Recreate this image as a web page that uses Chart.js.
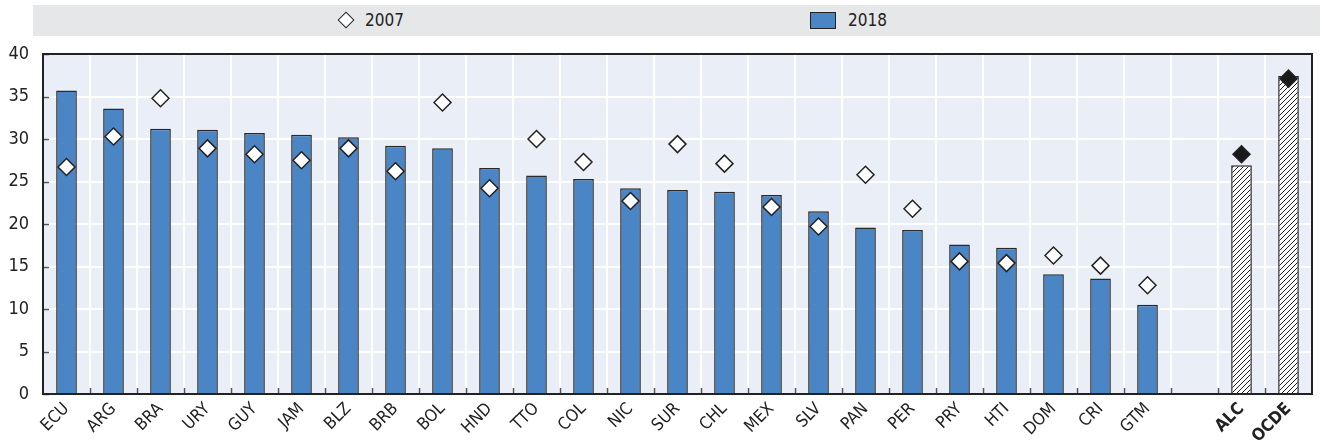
<!DOCTYPE html>
<html>
<head>
<meta charset="utf-8">
<script src="https://cdn.jsdelivr.net/npm/chart.js@4/dist/chart.umd.min.js"></script>
<style>
  body { margin: 0; background: #fff; }
  #wrap { position: relative; width: 1322px; height: 442px; }
  #legend {
    position: absolute; left: 33px; top: 5px; width: 1287px; height: 31px;
    background: #e6e7e9;
    font-family: 'Liberation Sans Narrow', 'DejaVu Sans Condensed', 'Roboto Condensed', sans-serif;
    font-size: 17px; color: #222;
  }
  .item { position: absolute; top: 0; height: 31px; line-height: 31px; }
  .diamond {
    position: absolute; width: 10px; height: 10px; top: 9px;
    background: #fff; border: 1.5px solid #222; transform: rotate(45deg);
  }
  .box {
    position: absolute; width: 24px; height: 15px; top: 7px;
    background: #4a86c6; border: 1px solid #222;
  }
</style>
</head>
<body>
<div id="wrap">
  <canvas id="chart" width="1322" height="442"></canvas>
  <div id="legend">
    <div class="item" style="left:307px"><span class="diamond"></span></div>
    <div class="item" style="left:332px">2007</div>
    <div class="item" style="left:777px"><span class="box"></span></div>
    <div class="item" style="left:815px">2018</div>
  </div>
</div>
<script>
// data
const categories = ["ECU", "ARG", "BRA", "URY", "GUY", "JAM", "BLZ", "BRB", "BOL", "HND",
    "TTO", "COL", "NIC", "SUR", "CHL", "MEX", "SLV", "PAN", "PER", "PRY",
    "HTI", "DOM", "CRI", "GTM", "", "ALC", "OCDE"];
const values2018 = [35.7, 33.6, 31.2, 31.1, 30.7, 30.5, 30.2, 29.2, 28.9, 26.6,
    25.7, 25.3, 24.2, 24.0, 23.8, 23.4, 21.5, 19.6, 19.3, 17.6,
    17.2, 14.1, 13.6, 10.5, null, 26.9, 37.4];
const values2007 = [26.7, 30.3, 34.8, 28.9, 28.2, 27.5, 28.9, 26.2, 34.3, 24.2,
    30.0, 27.3, 22.7, 29.4, 27.1, 22.0, 19.7, 25.8, 21.8, 15.6,
    15.4, 16.3, 15.1, 12.8, null, 28.2, 37.1];
const aggregates = ["ALC", "OCDE"];
const yTicks = [0, 5, 10, 15, 20, 25, 30, 35, 40];

const fontFamily = "'Liberation Sans Narrow', 'DejaVu Sans Condensed', 'Roboto Condensed', sans-serif";
const blue = "#4a86c6";

// diagonal hatch for the aggregates
function makeHatch() {
    const c = document.createElement("canvas");
    c.width = 5;
    c.height = 5;
    const g = c.getContext("2d");
    g.fillStyle = "#fff";
    g.fillRect(0, 0, 5, 5);
    g.strokeStyle = "#222";
    g.lineWidth = 1;
    g.beginPath();
    g.moveTo(-1, 6); g.lineTo(6, -1);
    g.moveTo(-1, 1); g.lineTo(1, -1);
    g.moveTo(4, 6); g.lineTo(6, 4);
    g.stroke();
    return g.createPattern(c, "repeat");
}
const hatch = makeHatch();

const isAgg = (i) => aggregates.includes(categories[i]);
const barColors = categories.map((c, i) => isAgg(i) ? hatch : blue);
const pointColors = categories.map((c, i) => isAgg(i) ? "#1a1a1a" : "#ffffff");

// plot background, frame and small inner tick marks
const frame = {
    id: "frame",
    beforeDraw(chart) {
        const a = chart.chartArea;
        const ctx = chart.ctx;
        ctx.save();
        ctx.fillStyle = "#e9eef7";
        ctx.fillRect(a.left, a.top, a.right - a.left, a.bottom - a.top);
        ctx.restore();
    },
    afterDraw(chart) {
        const a = chart.chartArea;
        const ctx = chart.ctx;
        const x = chart.scales.x;
        const y = chart.scales.y;
        ctx.save();
        ctx.strokeStyle = "#555";
        ctx.lineWidth = 1.5;
        ctx.beginPath();
        for (let i = 0; i < categories.length - 1; i++) {
            const px = Math.round((x.getPixelForTick(i) + x.getPixelForTick(i + 1)) / 2) + 0.5;
            ctx.moveTo(px, a.bottom);
            ctx.lineTo(px, a.bottom - 6);
        }
        yTicks.forEach((v) => {
            const py = Math.round(y.getPixelForValue(v)) + 0.5;
            ctx.moveTo(a.left, py);
            ctx.lineTo(a.left + 6, py);
        });
        ctx.stroke();
        ctx.strokeStyle = "#222";
        ctx.lineWidth = 2;
        ctx.strokeRect(a.left, a.top, a.right - a.left, a.bottom - a.top);
        ctx.restore();
    },
};

const ctx = document.getElementById("chart").getContext("2d");
new Chart(ctx, {
    data: {
        labels: categories,
        datasets: [
            {
                type: "line",
                label: "2007",
                data: values2007,
                showLine: false,
                pointStyle: "rectRot",
                pointRadius: 8.5,
                pointHoverRadius: 8.5,
                pointBackgroundColor: pointColors,
                pointBorderColor: "#222",
                pointBorderWidth: 1.5,
                order: 0,
            },
            {
                type: "bar",
                label: "2018",
                data: values2018,
                backgroundColor: barColors,
                borderColor: "#2a2a2a",
                borderWidth: 1.5,
                barPercentage: 0.44,
                categoryPercentage: 1,
                order: 1,
            },
        ],
    },
    options: {
        responsive: false,
        animation: false,
        layout: { padding: { top: 54, right: 2, left: 0, bottom: 0 } },
        plugins: {
            legend: { display: false },
            tooltip: { enabled: false },
        },
        scales: {
            x: {
                offset: true,
                grid: { color: "#ffffff", lineWidth: 2, drawTicks: false, offset: true },
                border: { display: false },
                ticks: {
                    autoSkip: false,
                    minRotation: 45,
                    maxRotation: 45,
                    padding: 5,
                    color: "#222",
                    font: (c) => ({
                        family: fontFamily,
                        size: 17,
                        weight: aggregates.includes(categories[c.index]) ? "bold" : "normal",
                    }),
                },
                afterFit: (s) => { s.height = 48; },
            },
            y: {
                min: 0,
                max: 40,
                grid: { color: "#ffffff", lineWidth: 2, drawTicks: false },
                border: { display: false },
                ticks: {
                    stepSize: 5,
                    padding: 14,
                    color: "#222",
                    font: { family: fontFamily, size: 18 },
                },
                afterFit: (s) => { s.width = 43; },
            },
        },
    },
    plugins: [frame],
});
</script>
</body>
</html>
